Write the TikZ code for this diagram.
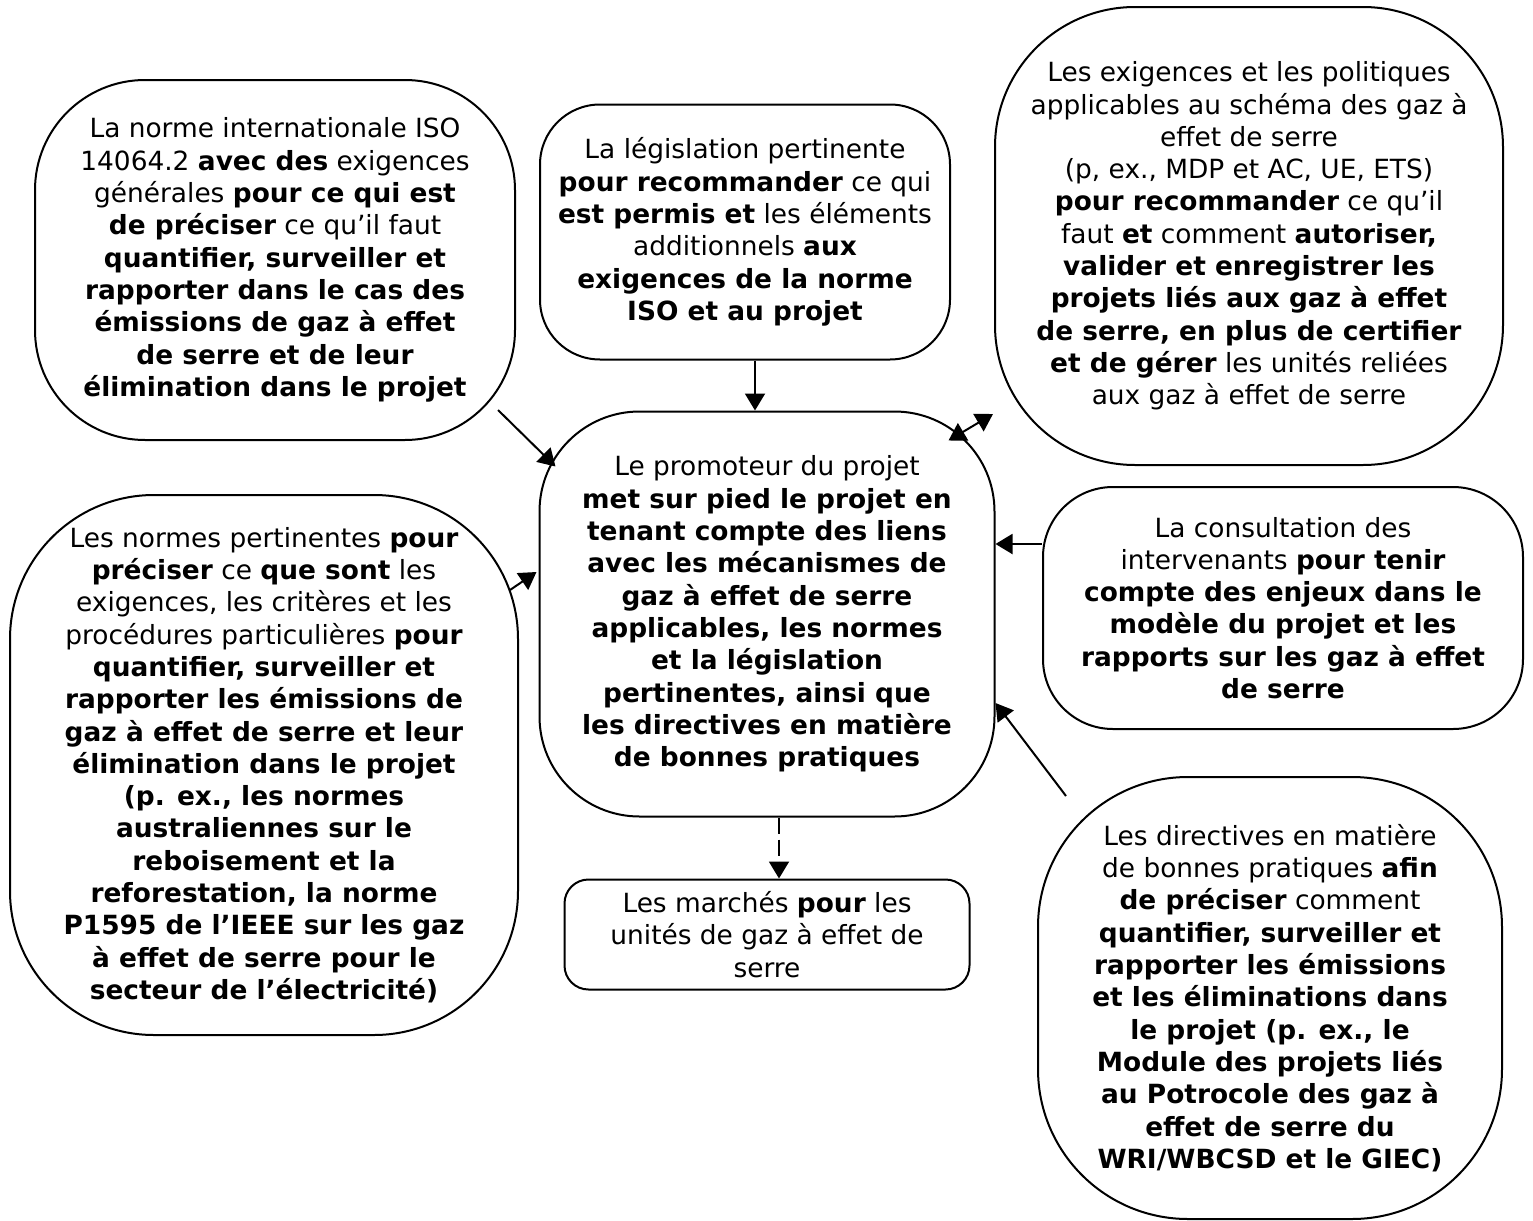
\documentclass[tikz,border=0pt]{standalone}
\usepackage{fontspec}
\setmainfont{DejaVu Sans}
\usepackage{tikz}
\usetikzlibrary{positioning, arrows.meta, calc}
\tikzset{
  bloc/.style={rectangle, draw=black, line width=1pt, fill=white, align=center, inner sep=0pt, font=\fontsize{13.2}{16.15}\selectfont},
  arrow/.style={line width=1pt, -{Triangle[length=8.5pt,width=10pt]}},
  arrowboth/.style={line width=1pt, {Triangle[length=8.5pt,width=10pt]}-{Triangle[length=8.5pt,width=10pt]}},
  dasharrow/.style={arrow, dash pattern=on 8pt off 3pt}
}
\begin{document}
\begin{tikzpicture}[x=0.5pt, y=-0.5pt]
    \useasboundingbox (0,0) rectangle (1533,1221);

    \node (promoteur) [bloc, minimum width=227.5pt, minimum height=202.5pt, rounded corners=50pt] at (767,614)
    {Le promoteur du projet\\ \textbf{met sur pied le projet en}\\ \textbf{tenant compte des liens}\\ \textbf{avec les mécanismes de}\\ \textbf{gaz à effet de serre}\\ \textbf{applicables, les normes}\\ \textbf{et la législation}\\ \textbf{pertinentes, ainsi que}\\ \textbf{les directives en matière}\\ \textbf{de bonnes pratiques}};

    \node (iso) [bloc, minimum width=240pt, minimum height=180pt, rounded corners=55pt] at (275,260)
    {La norme internationale ISO\\ 14064.2 \textbf{avec des} exigences\\ générales \textbf{pour ce qui est}\\ \textbf{de préciser} ce qu’il faut\\ \textbf{quantifier, surveiller et}\\ \textbf{rapporter dans le cas des}\\ \textbf{émissions de gaz à effet}\\ \textbf{de serre et de leur}\\ \textbf{élimination dans le projet}};

    \node (legis) [bloc, minimum width=205pt, minimum height=127.5pt, rounded corners=30pt] at (745,232)
    {La législation pertinente\\ \textbf{pour recommander} ce qui\\ \textbf{est permis et} les éléments\\ additionnels \textbf{aux}\\ \textbf{exigences de la norme}\\ \textbf{ISO et au projet}};

    \node (schema) [bloc, minimum width=254pt, minimum height=229pt, rounded corners=70pt] at (1249,236)
    {Les exigences et les politiques\\ applicables au schéma des gaz à\\ effet de serre\\ (p, ex., MDP et AC, UE, ETS)\\ \textbf{pour recommander} ce qu’il\\ faut \textbf{et} comment \textbf{autoriser,}\\ \textbf{valider et enregistrer les}\\ \textbf{projets liés aux gaz à effet}\\ \textbf{de serre, en plus de certifier}\\ \textbf{et de gérer} les unités reliées\\ aux gaz à effet de serre};

    \node (normes) [bloc, minimum width=254pt, minimum height=270pt, rounded corners=72pt] at (264,765)
    {Les normes pertinentes \textbf{pour}\\ \textbf{préciser} ce \textbf{que sont} les\\ exigences, les critères et les\\ procédures particulières \textbf{pour}\\ \textbf{quantifier, surveiller et}\\ \textbf{rapporter les émissions de}\\ \textbf{gaz à effet de serre et leur}\\ \textbf{élimination dans le projet}\\ \textbf{(p. ex., les normes}\\ \textbf{australiennes sur le}\\ \textbf{reboisement et la}\\ \textbf{reforestation, la norme}\\ \textbf{P1595 de l’IEEE sur les gaz}\\ \textbf{à effet de serre pour le}\\ \textbf{secteur de l’électricité)}};

    \node (consult) [bloc, minimum width=240pt, minimum height=121pt, rounded corners=35pt] at (1283,608)
    {La consultation des\\ intervenants \textbf{pour tenir}\\ \textbf{compte des enjeux dans le}\\ \textbf{modèle du projet et les}\\ \textbf{rapports sur les gaz à effet}\\ \textbf{de serre}};

    \node (direct) [bloc, minimum width=232pt, minimum height=221pt, rounded corners=75pt] at (1270,998)
    {Les directives en matière\\ de bonnes pratiques \textbf{afin}\\ \textbf{de préciser} comment\\ \textbf{quantifier, surveiller et}\\ \textbf{rapporter les émissions}\\ \textbf{et les éliminations dans}\\ \textbf{le projet (p. ex., le}\\ \textbf{Module des projets liés}\\ \textbf{au Potrocole des gaz à}\\ \textbf{effet de serre du}\\ \textbf{WRI/WBCSD et le GIEC)}};

    \node (marches) [bloc, minimum width=202.5pt, minimum height=55pt, rounded corners=12pt, below=30.5pt of promoteur]
    {Les marchés \textbf{pour} les\\ unités de gaz à effet de\\ serre};

    % Flèches
    \draw [arrow] ($(iso.south east)+(-18,-31)$) -- ($(promoteur.north west)+(17,56)$);
    \draw [arrow] ($(legis.south)+(10,0)$) -- ($(promoteur.north)+(-12,0)$);
    \draw [arrowboth] ($(promoteur.north east)+(-47,30)$) -- ($(schema.south west)+(-1,-52)$);
    \draw [arrow] ($(normes.east)+(-9,-175)$) -- ($(promoteur.west)+(-2,-42)$);
    \coordinate (consultin) at ($(consult.west)+(0,-64)$);
    \draw [arrow] (consultin) -- (consultin -| promoteur.east);
    \draw [arrow] ($(direct.north west)+(29,20)$) -- ($(promoteur.east)+(0,89)$);

    % Marchés
    \draw [dasharrow] ($(promoteur.south)+(12,0)$) -- ($(marches.north)+(12,0)$);

\end{tikzpicture}
\end{document}
